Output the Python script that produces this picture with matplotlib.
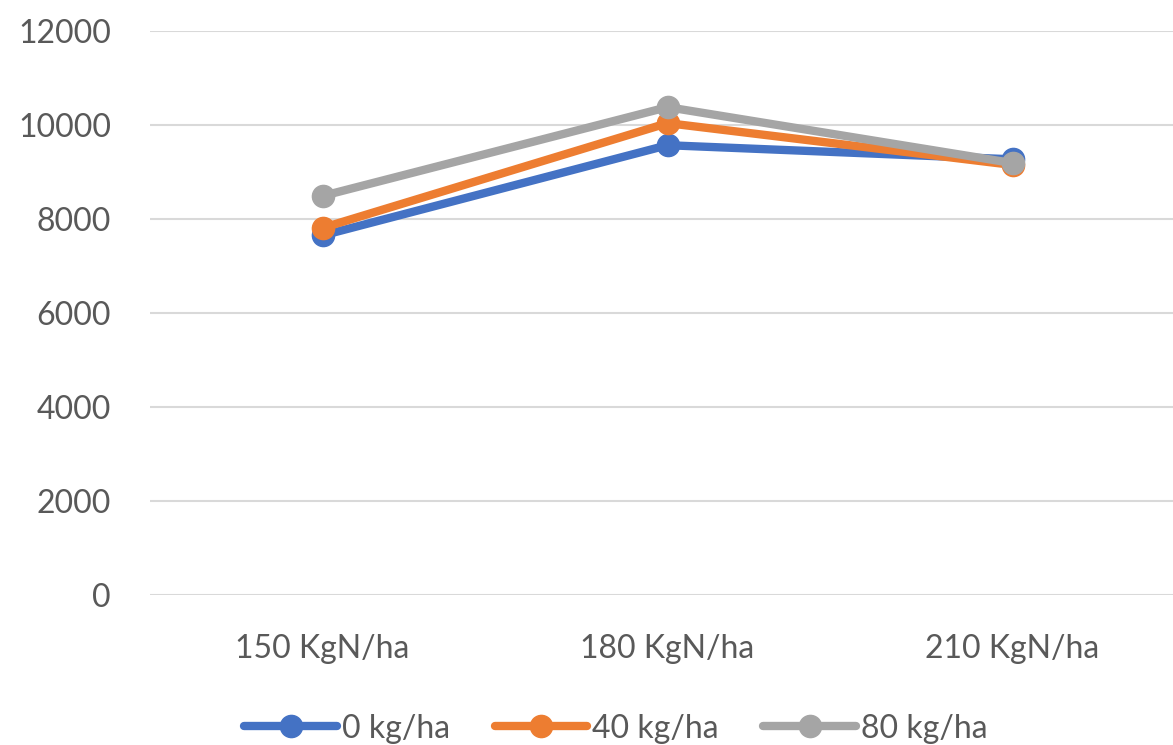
import matplotlib.pyplot as plt

# data
categories = ["150 KgN/ha", "180 KgN/ha", "210 KgN/ha"]
series_names = ["0 kg/ha", "40 kg/ha", "80 kg/ha"]
yield_0 = [7650, 9570, 9270]
yield_40 = [7810, 10040, 9150]
yield_80 = [8490, 10380, 9190]
colors = ["#4472C4", "#ED7D31", "#A5A5A5"]

plt.rcParams["font.family"] = ["Lato", "DejaVu Sans"]

fig = plt.figure(figsize=(11.73, 7.45), dpi=100)
ax = fig.add_axes([150 / 1173, 150 / 745, 1035 / 1173, 564 / 745])

x = [0.5, 1.5, 2.5]
for vals, name, c in zip([yield_0, yield_40, yield_80], series_names, colors):
    ax.plot(x, vals, color=c, lw=6, marker="o", markersize=16,
            solid_capstyle="round", label=name)

ax.set_xlim(0, 3)
ax.set_ylim(0, 12000)
ax.set_yticks(range(0, 12001, 2000))
ax.set_xticks(x)
ax.set_xticklabels(categories)
ax.grid(axis="y", color="#D9D9D9", lw=1.5)
ax.set_axisbelow(True)
for s in ax.spines.values():
    s.set_visible(False)
ax.tick_params(axis="both", length=0, labelsize=23, labelcolor="#595959")
ax.tick_params(axis="y", pad=28)
ax.tick_params(axis="x", pad=28)

fig.legend(loc="center", bbox_to_anchor=(0.525, 0.022), ncol=3, frameon=False,
           fontsize=23, labelcolor="#595959", handlelength=2.9,
           handletextpad=0.15, columnspacing=1.4)

fig.savefig("out.png", dpi=100)
